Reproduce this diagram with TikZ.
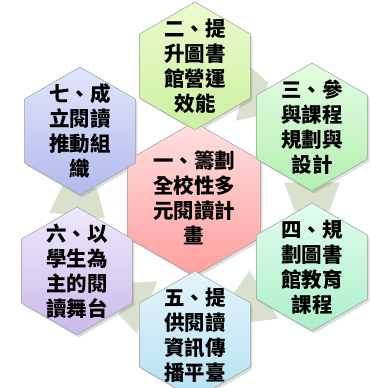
\documentclass[tikz,border=0pt]{standalone}
\usepackage{fontspec}
\newfontfamily\cjk{Noto Sans CJK TC}
\usetikzlibrary{shapes.geometric,calc}
\definecolor{conn}{HTML}{D9E1CD}
\definecolor{hexline}{HTML}{9A9E9A}
\tikzset{
  hexbig/.style={regular polygon, regular polygon sides=6, shape border rotate=30,
    minimum size=154pt, inner sep=0pt, outer sep=0pt, draw=hexline, line width=0.5pt},
  hexsmall/.style={regular polygon, regular polygon sides=6, shape border rotate=30,
    minimum size=128pt, inner sep=0pt, outer sep=0pt, draw=hexline, line width=0.5pt},
  hexshadow/.style={fill=black, fill opacity=0.13, draw=none},
  lbl/.style={font=\cjk\bfseries\fontsize{20.5}{25}\selectfont, align=center, text=black, inner sep=0pt},
  connector/.style={fill=conn, draw=none}
}
\begin{document}
\begin{tikzpicture}[x=1pt,y=1pt]
\useasboundingbox (0,0) rectangle (370,388);
\clip (0,0) rectangle (370,388);
\fill[white] (0,0) rectangle (370,388);
% centres
\coordinate (c1) at (194,189);
\coordinate (c2) at (195,322);
\coordinate (c3) at (312,261);
\coordinate (c4) at (312,121);
\coordinate (c5) at (195,53);
\coordinate (c6) at (77,117);
\coordinate (c7) at (80,257);
% connector end points (edge midpoints), h = 55.4
\coordinate (s23) at ($(c2)+(-30:55.4pt)$);  \coordinate (e23) at ($(c3)+(150:55.4pt)$);
\coordinate (s34) at ($(c3)+(-90:55.4pt)$);  \coordinate (e34) at ($(c4)+(90:55.4pt)$);
\coordinate (s45) at ($(c4)+(210:55.4pt)$);  \coordinate (e45) at ($(c5)+(30:55.4pt)$);
\coordinate (s56) at ($(c5)+(150:55.4pt)$);  \coordinate (e56) at ($(c6)+(-30:55.4pt)$);
\coordinate (s67) at ($(c6)+(90:55.4pt)$);   \coordinate (e67) at ($(c7)+(-90:55.4pt)$);
\foreach \a/\b in {s23/e23,s34/e34,s45/e45,s56/e56,s67/e67}{
  \fill[connector] ($(\a)!28pt!90:(\b)$) -- ($(\b)!17pt!-90:(\a)$)
     -- ($(\b)!17pt!90:(\a)$) -- ($(\a)!28pt!-90:(\b)$) -- cycle;
}
% shadows
\node[hexbig, hexshadow] (sh1) at ($(c1)+(2,-2.5)$) {};
\foreach \i in {2,...,7}{
  \node[hexsmall, hexshadow] (sh\i) at ($(c\i)+(2,-2.5)$) {};
}
% hexagons
\node[hexbig, top color=red!12, bottom color=red!38] (h1) at (c1) {};
\node[hexsmall, top color={rgb,255:red,236;green,251;blue,206}, bottom color={rgb,255:red,204;green,240;blue,160}] (h2) at (c2) {};
\node[hexsmall, top color={rgb,255:red,228;green,252;blue,226}, bottom color={rgb,255:red,180;green,240;blue,178}] (h3) at (c3) {};
\node[hexsmall, top color={rgb,255:red,226;green,252;blue,238}, bottom color={rgb,255:red,170;green,240;blue,200}] (h4) at (c4) {};
\node[hexsmall, top color={rgb,255:red,228;green,245;blue,252}, bottom color={rgb,255:red,180;green,224;blue,242}] (h5) at (c5) {};
\node[hexsmall, top color={rgb,255:red,238;green,232;blue,252}, bottom color={rgb,255:red,202;green,186;blue,234}] (h6) at (c6) {};
\node[hexsmall, top color={rgb,255:red,226;green,229;blue,252}, bottom color={rgb,255:red,178;green,186;blue,236}] (h7) at (c7) {};
% labels
\node[lbl] (t1) at ($(c1)+(0,1)$) {一、籌劃\\全校性多\\元閱讀計\\畫};
\node[lbl] (t2) at (c2) {二、提\\升圖書\\館營運\\效能};
\node[lbl] (t3) at (c3) {三、參\\與課程\\規劃與\\設計};
\node[lbl] (t4) at (c4) {四、規\\劃圖書\\館教育\\課程};
\node[lbl] (t5) at (c5) {五、提\\供閱讀\\資訊傳\\播平臺};
\node[lbl] (t6) at (c6) {六、以\\學生為\\主的閱\\讀舞台};
\node[lbl] (t7) at (c7) {七、成\\立閱讀\\推動組\\織};
\end{tikzpicture}
\end{document}
